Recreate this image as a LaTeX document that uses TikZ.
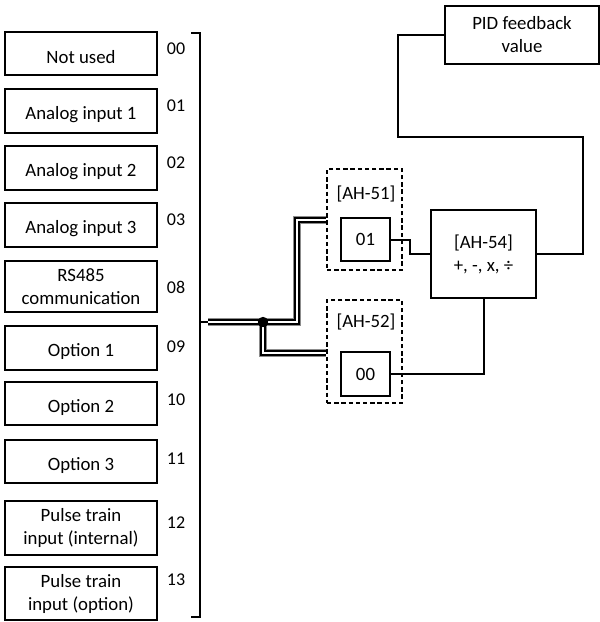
\documentclass[tikz,border=0pt]{standalone}
\usepackage{fontspec}
\setmainfont{Carlito}
\newcommand{\lowtxt}[1]{\raisebox{-2pt}[\height][\depth]{#1}}
\begin{document}
\begin{tikzpicture}[x=0.5pt,y=-0.5pt,line width=1pt,
  font=\fontsize{9.4}{11.5}\selectfont,
  srcbox/.style={draw,line width=1pt,inner sep=0pt,minimum width=76pt,align=center},
  numlbl/.style={inner sep=0pt,font=\fontsize{9}{10}\selectfont},
  solidbox/.style={draw,line width=1pt,inner sep=0pt,align=center},
  dashbox/.style={draw,line width=1pt,inner sep=0pt,dash pattern=on 2.2pt off 1.4pt},
  wire/.style={line width=1pt}]
\useasboundingbox (0,0) rectangle (600,622);
% left boxes
\node[srcbox,minimum height=21.5pt] (s00) at (81,53.5) {\lowtxt{Not used}};
\node[srcbox,minimum height=22pt] (s01) at (81,111) {\lowtxt{Analog input 1}};
\node[srcbox,minimum height=22pt] (s02) at (81,168) {\lowtxt{Analog input 2}};
\node[srcbox,minimum height=22pt] (s03) at (81,225) {\lowtxt{Analog input 3}};
\node[srcbox,minimum height=25.5pt] (s08) at (81,286.5) {RS485\\communication};
\node[srcbox,minimum height=22pt] (s09) at (81,348) {\lowtxt{Option 1}};
\node[srcbox,minimum height=21.5pt] (s10) at (81,403.5) {\lowtxt{Option 2}};
\node[srcbox,minimum height=21.5pt] (s11) at (81,461.5) {\lowtxt{Option 3}};
\node[srcbox,minimum height=27pt] (s12) at (81,528) {Pulse train\\input (internal)};
\node[srcbox,minimum height=26.5pt] (s13) at (81,593.5) {Pulse train\\input (option)};
% numbers
\node[numlbl] (n00) at (176,49) {00};
\node[numlbl] (n01) at (176,106) {01};
\node[numlbl] (n02) at (176,163) {02};
\node[numlbl] (n03) at (176,220) {03};
\node[numlbl] (n08) at (176,287) {08};
\node[numlbl] (n09) at (176,347) {09};
\node[numlbl] (n10) at (176,400) {10};
\node[numlbl] (n11) at (176,459) {11};
\node[numlbl] (n12) at (176,523) {12};
\node[numlbl] (n13) at (176,580) {13};
% bracket
\draw[wire] (191,33) -- (200,33) -- (200,617) -- (191,617);
\coordinate (bm) at (200,322);
\coordinate (s) at (208,322);
\draw[wire] (bm) -- (s);
% dashed selector boxes
\node[dashbox,minimum width=37.5pt,minimum height=50.5pt] (d51) at (364.5,219.5) {};
\node[dashbox,minimum width=37.5pt,minimum height=51.5pt] (d52) at (364.5,351.5) {};
\node[inner sep=0pt] (t51) at (366,194) {[AH-51]};
\node[inner sep=0pt] (t52) at (366,322) {[AH-52]};
\node[solidbox,minimum width=24.5pt,minimum height=21.5pt] (b01) at (365.5,239.5) {01};
\node[solidbox,minimum width=24.5pt,minimum height=22pt] (b00) at (365.5,374) {00};
% operator box and PID box
\node[solidbox,minimum width=52.5pt,minimum height=44pt] (ah54) at (483.5,254) {[AH-54]\\+, -, x, ÷};
\node[solidbox,minimum width=77pt,minimum height=29pt] (pid) at (522,35) {PID feedback\\value};
% triple bus
\coordinate (j) at (263,322);
\coordinate (u1) at (297,322);
\coordinate (u2) at (297,220);
\coordinate (u3) at (d51.west |- u2);
\coordinate (l1) at (263,353);
\coordinate (l2) at (d52.west |- l1);
\foreach \w/\c in {4pt/black!45, 3.1pt/black, 1pt/white} {
  \draw[line width=\w,\c] (s) -- (u1) -- (u2) -- (u3);
  \draw[line width=\w,\c] (j) -- (l1) -- (l2);
}
\fill (j) circle[radius=2.6pt];
% wires
\coordinate (k1) at (410,239.5);
\draw[wire] (b01.east) -- (k1) |- (ah54.west);
\draw[wire] (b00.east) -| (ah54.south);
\coordinate (r1) at (583,137);
\coordinate (r2) at (398,137);
\draw[wire] (ah54.east) -| (r1) -- (r2) |- (pid.west);
\end{tikzpicture}
\end{document}
